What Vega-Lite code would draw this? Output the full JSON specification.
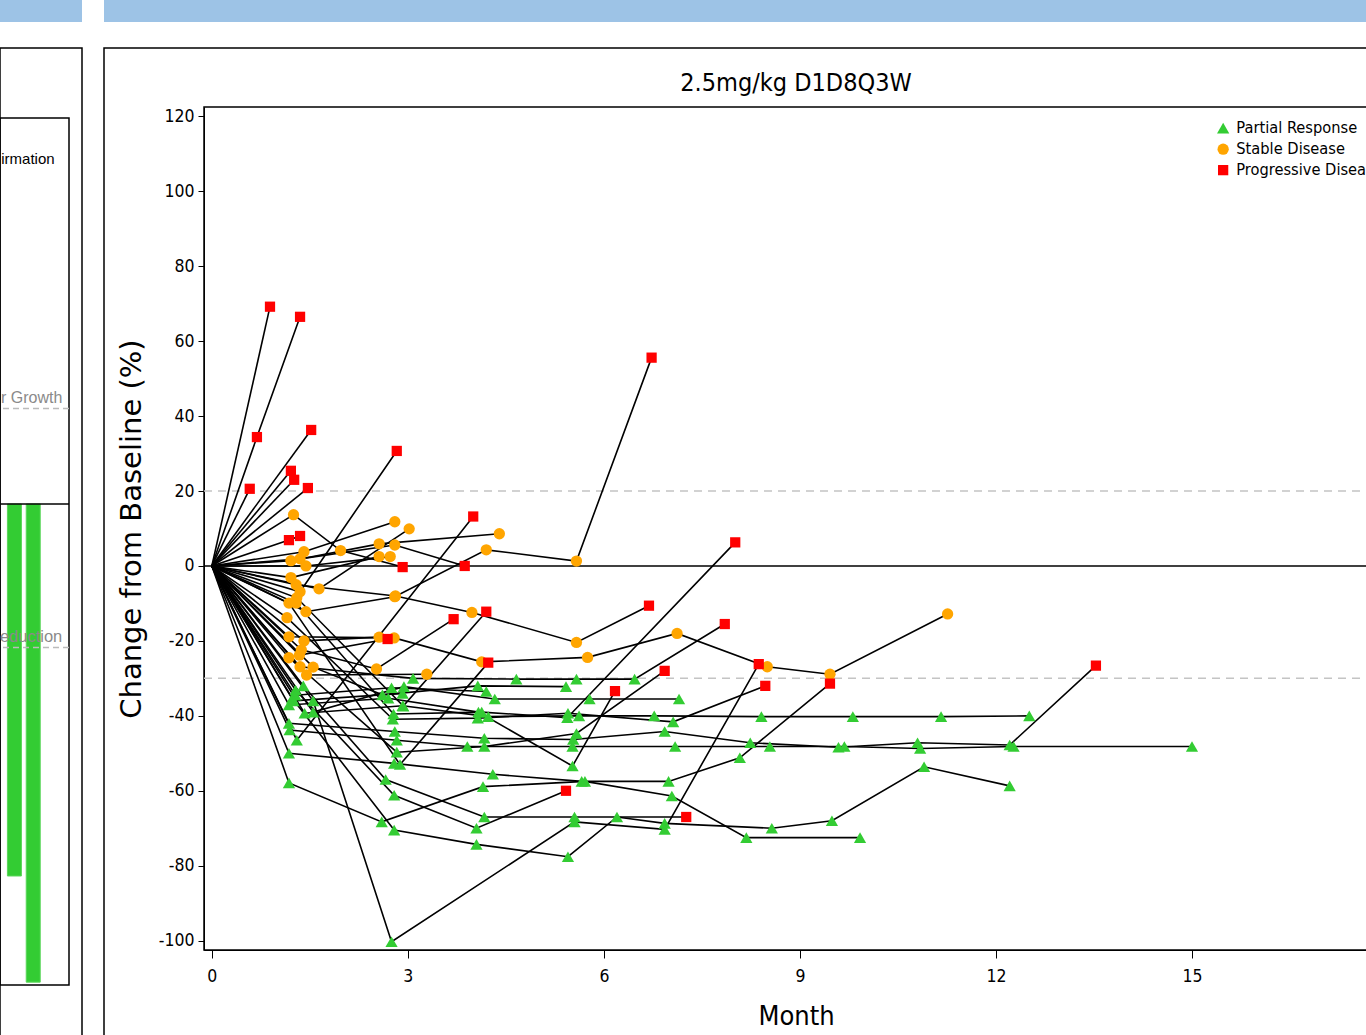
{
  "$schema": "https://vega.github.io/schema/vega-lite/v6.json",
  "padding": {"left": -2, "top": 0, "right": 0, "bottom": 0},
  "background": "white",
  "bounds": "flush",
  "spacing": 107,
  "config": {"view": {"stroke": null}},
  "datasets": {
    "spider": [
      {"id":1,"m":0,"v":0,"s":"Baseline"},{"id":1,"m":0.89,"v":69.2,"s":"Progressive Disease"},
      {"id":2,"m":0,"v":0,"s":"Baseline"},{"id":2,"m":0.69,"v":34.4,"s":"Progressive Disease"},{"id":2,"m":1.35,"v":66.5,"s":"Progressive Disease"},
      {"id":3,"m":0,"v":0,"s":"Baseline"},{"id":3,"m":0.58,"v":20.6,"s":"Progressive Disease"},
      {"id":4,"m":0,"v":0,"s":"Baseline"},{"id":4,"m":1.52,"v":36.3,"s":"Progressive Disease"},
      {"id":5,"m":0,"v":0,"s":"Baseline"},{"id":5,"m":1.21,"v":25.4,"s":"Progressive Disease"},
      {"id":6,"m":0,"v":0,"s":"Baseline"},{"id":6,"m":1.26,"v":23.0,"s":"Progressive Disease"},
      {"id":7,"m":0,"v":0,"s":"Baseline"},{"id":7,"m":1.47,"v":20.8,"s":"Progressive Disease"},
      {"id":8,"m":0,"v":0,"s":"Baseline"},{"id":8,"m":1.18,"v":6.9,"s":"Progressive Disease"},{"id":8,"m":1.35,"v":8.0,"s":"Progressive Disease"},
      {"id":9,"m":0,"v":0,"s":"Baseline"},{"id":9,"m":1.35,"v":-6.9,"s":"Stable Disease"},{"id":9,"m":2.83,"v":30.7,"s":"Progressive Disease"},
      {"id":10,"m":0,"v":0,"s":"Baseline"},{"id":10,"m":1.25,"v":13.7,"s":"Stable Disease"},{"id":10,"m":1.97,"v":4.1,"s":"Stable Disease"},{"id":10,"m":2.92,"v":-0.3,"s":"Progressive Disease"},
      {"id":11,"m":0,"v":0,"s":"Baseline"},{"id":11,"m":1.41,"v":3.8,"s":"Stable Disease"},{"id":11,"m":2.80,"v":11.8,"s":"Stable Disease"},
      {"id":12,"m":0,"v":0,"s":"Baseline"},{"id":12,"m":1.64,"v":-6.1,"s":"Stable Disease"},{"id":12,"m":3.02,"v":9.9,"s":"Stable Disease"},
      {"id":13,"m":0,"v":0,"s":"Baseline"},{"id":13,"m":1.21,"v":1.4,"s":"Stable Disease"},{"id":13,"m":2.56,"v":5.9,"s":"Stable Disease"},{"id":13,"m":4.40,"v":8.6,"s":"Stable Disease"},
      {"id":14,"m":0,"v":0,"s":"Baseline"},{"id":14,"m":1.35,"v":1.9,"s":"Stable Disease"},{"id":14,"m":2.80,"v":5.6,"s":"Stable Disease"},{"id":14,"m":3.87,"v":0,"s":"Progressive Disease"},
      {"id":15,"m":0,"v":0,"s":"Baseline"},{"id":15,"m":1.44,"v":0,"s":"Stable Disease"},{"id":15,"m":2.73,"v":2.5,"s":"Stable Disease"},
      {"id":16,"m":0,"v":0,"s":"Baseline"},{"id":16,"m":1.21,"v":-3.1,"s":"Stable Disease"},{"id":16,"m":2.56,"v":2.5,"s":"Stable Disease"},
      {"id":17,"m":0,"v":0,"s":"Baseline"},{"id":17,"m":1.29,"v":-5,"s":"Stable Disease"},{"id":17,"m":2.81,"v":-8,"s":"Stable Disease"},{"id":17,"m":3.98,"v":-12.4,"s":"Stable Disease"},{"id":17,"m":5.58,"v":-20.4,"s":"Stable Disease"},{"id":17,"m":6.69,"v":-10.6,"s":"Progressive Disease"},
      {"id":18,"m":0,"v":0,"s":"Baseline"},{"id":18,"m":1.44,"v":-12.2,"s":"Stable Disease"},{"id":18,"m":2.80,"v":-8.2,"s":"Stable Disease"},{"id":18,"m":4.2,"v":4.3,"s":"Stable Disease"},{"id":18,"m":5.58,"v":1.3,"s":"Stable Disease"},{"id":18,"m":6.73,"v":55.6,"s":"Progressive Disease"},
      {"id":19,"m":0,"v":0,"s":"Baseline"},{"id":19,"m":1.18,"v":-18.9,"s":"Stable Disease"},{"id":19,"m":2.79,"v":-19.2,"s":"Stable Disease"},{"id":19,"m":4.13,"v":-25.6,"s":"Stable Disease"},{"id":19,"m":5.75,"v":-24.4,"s":"Stable Disease"},{"id":19,"m":7.12,"v":-18,"s":"Stable Disease"},{"id":19,"m":8.5,"v":-26.9,"s":"Stable Disease"},{"id":19,"m":9.46,"v":-28.9,"s":"Stable Disease"},{"id":19,"m":11.26,"v":-12.8,"s":"Stable Disease"},
      {"id":20,"m":0,"v":0,"s":"Baseline"},{"id":20,"m":1.41,"v":-20,"s":"Stable Disease"},{"id":20,"m":2.56,"v":-19,"s":"Stable Disease"},
      {"id":21,"m":0,"v":0,"s":"Baseline"},{"id":21,"m":1.37,"v":-22.4,"s":"Stable Disease"},{"id":21,"m":2.52,"v":-27.5,"s":"Stable Disease"},{"id":21,"m":3.70,"v":-14.2,"s":"Progressive Disease"},
      {"id":22,"m":0,"v":0,"s":"Baseline"},{"id":22,"m":1.34,"v":-23.8,"s":"Stable Disease"},{"id":22,"m":2.69,"v":-19.5,"s":"Progressive Disease"},
      {"id":23,"m":0,"v":0,"s":"Baseline"},{"id":23,"m":1.45,"v":-29.1,"s":"Stable Disease"},{"id":23,"m":3.29,"v":-28.9,"s":"Stable Disease"},
      {"id":24,"m":0,"v":0,"s":"Baseline"},{"id":24,"m":1.30,"v":-8.5,"s":"Stable Disease"},{"id":24,"m":2.93,"v":-37.4,"s":"Partial Response"},{"id":24,"m":4.2,"v":-12.2,"s":"Progressive Disease"},
      {"id":25,"m":0,"v":0,"s":"Baseline"},{"id":25,"m":1.18,"v":-9.9,"s":"Stable Disease"},{"id":25,"m":2.88,"v":-53,"s":"Partial Response"},{"id":25,"m":4.23,"v":-25.8,"s":"Progressive Disease"},
      {"id":26,"m":0,"v":0,"s":"Baseline"},{"id":26,"m":1.30,"v":-46.5,"s":"Partial Response"},{"id":26,"m":4.0,"v":13.2,"s":"Progressive Disease"},
      {"id":27,"m":0,"v":0,"s":"Baseline"},{"id":27,"m":1.42,"v":-39.3,"s":"Partial Response"},{"id":27,"m":2.92,"v":-37.3,"s":"Partial Response"},{"id":27,"m":4.23,"v":-40.2,"s":"Partial Response"},{"id":27,"m":5.62,"v":-40,"s":"Partial Response"},{"id":27,"m":6.77,"v":-40,"s":"Partial Response"},{"id":27,"m":8.41,"v":-40.2,"s":"Partial Response"},{"id":27,"m":9.81,"v":-40.2,"s":"Partial Response"},{"id":27,"m":11.16,"v":-40.2,"s":"Partial Response"},{"id":27,"m":12.51,"v":-40,"s":"Partial Response"},
      {"id":28,"m":0,"v":0,"s":"Baseline"},{"id":28,"m":1.19,"v":-43.8,"s":"Partial Response"},{"id":28,"m":2.83,"v":-46.5,"s":"Partial Response"},{"id":28,"m":3.91,"v":-48.2,"s":"Partial Response"},{"id":28,"m":5.52,"v":-48.2,"s":"Partial Response"},{"id":28,"m":7.09,"v":-48.2,"s":"Partial Response"},{"id":28,"m":8.54,"v":-48.2,"s":"Partial Response"},{"id":28,"m":9.68,"v":-48.2,"s":"Partial Response"},{"id":28,"m":10.84,"v":-48.7,"s":"Partial Response"},{"id":28,"m":12.27,"v":-48.2,"s":"Partial Response"},{"id":28,"m":15.0,"v":-48.2,"s":"Partial Response"},
      {"id":29,"m":0,"v":0,"s":"Baseline"},{"id":29,"m":1.18,"v":-42,"s":"Partial Response"},{"id":29,"m":2.80,"v":-44.2,"s":"Partial Response"},{"id":29,"m":4.17,"v":-46,"s":"Partial Response"},{"id":29,"m":5.53,"v":-46.3,"s":"Partial Response"},{"id":29,"m":6.93,"v":-44.2,"s":"Partial Response"},{"id":29,"m":8.24,"v":-47.2,"s":"Partial Response"},{"id":29,"m":9.59,"v":-48.4,"s":"Partial Response"},{"id":29,"m":10.8,"v":-47.2,"s":"Partial Response"},{"id":29,"m":12.21,"v":-47.8,"s":"Partial Response"},{"id":29,"m":13.53,"v":-26.6,"s":"Progressive Disease"},
      {"id":30,"m":0,"v":0,"s":"Baseline"},{"id":30,"m":1.18,"v":-50,"s":"Partial Response"},{"id":30,"m":2.79,"v":-52.7,"s":"Partial Response"},{"id":30,"m":4.3,"v":-55.6,"s":"Partial Response"},{"id":30,"m":5.66,"v":-57.5,"s":"Partial Response"},{"id":30,"m":6.99,"v":-57.5,"s":"Partial Response"},{"id":30,"m":8.08,"v":-51.2,"s":"Partial Response"},{"id":30,"m":9.46,"v":-31.4,"s":"Progressive Disease"},
      {"id":31,"m":0,"v":0,"s":"Baseline"},{"id":31,"m":1.18,"v":-57.9,"s":"Partial Response"},{"id":31,"m":2.6,"v":-68.3,"s":"Partial Response"},{"id":31,"m":4.15,"v":-58.9,"s":"Partial Response"},{"id":31,"m":5.71,"v":-57.5,"s":"Partial Response"},{"id":31,"m":7.04,"v":-61.4,"s":"Partial Response"},{"id":31,"m":8.18,"v":-72.5,"s":"Partial Response"},{"id":31,"m":9.92,"v":-72.5,"s":"Partial Response"},
      {"id":32,"m":0,"v":0,"s":"Baseline"},{"id":32,"m":1.23,"v":-35.3,"s":"Partial Response"},{"id":32,"m":2.79,"v":-70.5,"s":"Partial Response"},{"id":32,"m":4.05,"v":-74.3,"s":"Partial Response"},{"id":32,"m":5.45,"v":-77.6,"s":"Partial Response"},{"id":32,"m":6.2,"v":-67,"s":"Partial Response"},{"id":32,"m":6.93,"v":-68.7,"s":"Partial Response"},{"id":32,"m":8.57,"v":-70,"s":"Partial Response"},{"id":32,"m":9.49,"v":-68,"s":"Partial Response"},{"id":32,"m":10.9,"v":-53.6,"s":"Partial Response"},{"id":32,"m":12.21,"v":-58.7,"s":"Partial Response"},
      {"id":33,"m":0,"v":0,"s":"Baseline"},{"id":33,"m":1.40,"v":-32,"s":"Partial Response"},{"id":33,"m":2.66,"v":-57,"s":"Partial Response"},{"id":33,"m":4.17,"v":-67,"s":"Partial Response"},{"id":33,"m":5.55,"v":-67,"s":"Partial Response"},{"id":33,"m":7.26,"v":-67,"s":"Progressive Disease"},
      {"id":34,"m":0,"v":0,"s":"Baseline"},{"id":34,"m":1.28,"v":-33.1,"s":"Partial Response"},{"id":34,"m":2.79,"v":-61.2,"s":"Partial Response"},{"id":34,"m":4.05,"v":-70,"s":"Partial Response"},{"id":34,"m":5.42,"v":-60,"s":"Progressive Disease"},
      {"id":35,"m":0,"v":0,"s":"Baseline"},{"id":35,"m":1.55,"v":-36,"s":"Partial Response"},{"id":35,"m":2.75,"v":-100.3,"s":"Partial Response"},{"id":35,"m":5.55,"v":-68.3,"s":"Partial Response"},{"id":35,"m":6.93,"v":-70.3,"s":"Partial Response"},{"id":35,"m":8.37,"v":-26.2,"s":"Progressive Disease"},
      {"id":36,"m":0,"v":0,"s":"Baseline"},{"id":36,"m":1.15,"v":-13.8,"s":"Stable Disease"},{"id":36,"m":2.77,"v":-40.9,"s":"Partial Response"},{"id":36,"m":4.07,"v":-40.6,"s":"Partial Response"},{"id":36,"m":5.45,"v":-39.3,"s":"Partial Response"},{"id":36,"m":7.06,"v":-41.6,"s":"Partial Response"},{"id":36,"m":8.47,"v":-32,"s":"Progressive Disease"},
      {"id":37,"m":0,"v":0,"s":"Baseline"},{"id":37,"m":1.35,"v":-26.9,"s":"Stable Disease"},{"id":37,"m":3.08,"v":-30,"s":"Partial Response"},{"id":37,"m":4.66,"v":-30.2,"s":"Partial Response"},{"id":37,"m":5.58,"v":-30.2,"s":"Partial Response"},{"id":37,"m":6.47,"v":-30.2,"s":"Partial Response"},{"id":37,"m":7.85,"v":-15.5,"s":"Progressive Disease"},
      {"id":38,"m":0,"v":0,"s":"Baseline"},{"id":38,"m":1.18,"v":-24.5,"s":"Stable Disease"},{"id":38,"m":2.83,"v":-49.7,"s":"Partial Response"},{"id":38,"m":4.17,"v":-48.2,"s":"Partial Response"},{"id":38,"m":5.58,"v":-44.7,"s":"Partial Response"},{"id":38,"m":6.93,"v":-28,"s":"Progressive Disease"},
      {"id":39,"m":0,"v":0,"s":"Baseline"},{"id":39,"m":1.29,"v":-9.9,"s":"Stable Disease"},{"id":39,"m":2.78,"v":-39.5,"s":"Partial Response"},{"id":39,"m":4.13,"v":-39,"s":"Partial Response"},{"id":39,"m":5.44,"v":-40.5,"s":"Partial Response"},{"id":39,"m":8.01,"v":6.3,"s":"Progressive Disease"},
      {"id":40,"m":0,"v":0,"s":"Baseline"},{"id":40,"m":1.18,"v":-37.1,"s":"Partial Response"},{"id":40,"m":2.70,"v":-35.3,"s":"Partial Response"},{"id":40,"m":4.08,"v":-39,"s":"Partial Response"},{"id":40,"m":5.52,"v":-53.4,"s":"Partial Response"},{"id":40,"m":6.17,"v":-33.4,"s":"Progressive Disease"},
      {"id":41,"m":0,"v":0,"s":"Baseline"},{"id":41,"m":1.55,"v":-39,"s":"Partial Response"},{"id":41,"m":2.94,"v":-32.2,"s":"Partial Response"},{"id":41,"m":4.33,"v":-35.5,"s":"Partial Response"},{"id":41,"m":5.78,"v":-35.5,"s":"Partial Response"},{"id":41,"m":7.15,"v":-35.5,"s":"Partial Response"},
      {"id":42,"m":0,"v":0,"s":"Baseline"},{"id":42,"m":1.55,"v":-27,"s":"Stable Disease"},{"id":42,"m":2.61,"v":-34.4,"s":"Partial Response"},{"id":42,"m":4.07,"v":-32,"s":"Partial Response"},{"id":42,"m":5.42,"v":-32.2,"s":"Partial Response"},
      {"id":43,"m":0,"v":0,"s":"Baseline"},{"id":43,"m":1.28,"v":-34.5,"s":"Partial Response"},{"id":43,"m":2.75,"v":-32.5,"s":"Partial Response"},{"id":43,"m":4.2,"v":-33.5,"s":"Partial Response"},
      {"id":44,"m":0,"v":0,"s":"Baseline"},{"id":44,"m":1.25,"v":-36,"s":"Partial Response"},{"id":44,"m":2.92,"v":-34,"s":"Partial Response"}
    ],
    "bars": [
      {"idx": 1, "pct": -77.8},
      {"idx": 2, "pct": -100}
    ]
  },
  "vconcat": [
    {
      "bounds": "flush",
      "spacing": 104,
      "hconcat": [
        {
          "bounds": "flush",
          "spacing": 26,
          "vconcat": [
            {"data": {"values": [{}]}, "mark": {"type": "text", "text": ""}, "width": 82, "height": 22, "view": {"fill": "#9DC3E6", "stroke": null}},
            {"data": {"values": [{}]}, "mark": {"type": "text", "text": ""}, "width": 82, "height": 1000, "view": {"fill": null, "stroke": "#000", "strokeWidth": 1.5}}
          ]
        },
        {
          "bounds": "flush",
          "spacing": 26,
          "vconcat": [
            {"data": {"values": [{}]}, "mark": {"type": "text", "text": ""}, "width": 1262, "height": 22, "view": {"fill": "#9DC3E6", "stroke": null}},
            {"data": {"values": [{}]}, "mark": {"type": "text", "text": ""}, "width": 1290, "height": 1000, "view": {"fill": null, "stroke": "#000", "strokeWidth": 1.5}}
          ]
        }
      ]
    },
    {
      "bounds": "flush",
      "spacing": 204,
      "hconcat": [
        {
          "bounds": "flush",
          "spacing": 10,
          "vconcat": [
            {"data": {"values": [{}]}, "mark": {"type": "text", "text": ""}, "width": 69, "height": 1, "view": {"stroke": null}},
            {
              "width": 69,
              "height": 867,
              "view": {"stroke": "#000", "strokeWidth": 1.5},
              "data": {"name": "bars"},
              "layer": [
                {
                  "mark": {"type": "bar", "size": 14, "color": "#33CC33", "stroke": "#5ad65a", "strokeWidth": 1},
                  "encoding": {
                    "x": {"field": "idx", "type": "quantitative", "scale": {"domain": [0.5, 3.636], "nice": false, "zero": false}, "axis": null},
                    "y": {"field": "pct", "type": "quantitative", "scale": {"domain": [-100.6, 80.75], "nice": false}, "axis": null}
                  }
                },
                {"data": {"values": [{}]}, "mark": {"type": "rule", "color": "#000", "strokeWidth": 1.5}, "encoding": {"y": {"datum": 0}}},
                {"data": {"values": [{}]}, "mark": {"type": "rule", "color": "#bbbbbb", "strokeWidth": 1.5, "strokeDash": [6, 4]}, "encoding": {"y": {"datum": 20}}},
                {"data": {"values": [{}]}, "mark": {"type": "rule", "color": "#bbbbbb", "strokeWidth": 1.5, "strokeDash": [6, 4]}, "encoding": {"y": {"datum": -30}}},
                {"data": {"values": [{}]}, "mark": {"type": "text", "text": "irmation", "align": "right", "baseline": "alphabetic", "fontSize": 15, "font": "Liberation Sans", "color": "#000"}, "encoding": {"x": {"datum": 3.136}, "y": {"datum": 71.1}}},
                {"data": {"values": [{}]}, "mark": {"type": "text", "text": "r Growth", "align": "right", "baseline": "alphabetic", "fontSize": 16, "font": "Liberation Sans", "color": "#8a8a8a"}, "encoding": {"x": {"datum": 3.545}, "y": {"datum": 21.1}}},
                {"data": {"values": [{}]}, "mark": {"type": "text", "text": "eduction", "align": "right", "baseline": "alphabetic", "fontSize": 16.5, "font": "Liberation Sans", "color": "#8a8a8a"}, "encoding": {"x": {"datum": 3.545}, "y": {"datum": -28.9}}}
              ]
            }
          ]
        },
        {
          "width": 1184,
          "height": 843,
          "view": {"stroke": "#000", "strokeWidth": 1.5},
          "title": {"text": "2.5mg/kg D1D8Q3W", "fontSize": 25, "font": "DejaVu Sans Condensed, sans-serif", "fontWeight": "normal", "color": "#000", "offset": 11, "anchor": "middle"},
          "data": {"name": "spider"},
          "layer": [
            {"data": {"values": [{}]}, "mark": {"type": "rule", "color": "#c4c4c4", "strokeWidth": 1.5, "strokeDash": [8, 6]}, "encoding": {"y": {"datum": 20}}},
            {"data": {"values": [{}]}, "mark": {"type": "rule", "color": "#c4c4c4", "strokeWidth": 1.5, "strokeDash": [8, 6]}, "encoding": {"y": {"datum": -30}}},
            {"data": {"values": [{}]}, "mark": {"type": "rule", "color": "#000", "strokeWidth": 1.5}, "encoding": {"y": {"datum": 0}}},
            {
              "mark": {"type": "line", "color": "#000", "strokeWidth": 1.6},
              "encoding": {
                "x": {"field": "m", "type": "quantitative", "scale": {"domain": [-0.12, 18], "nice": false, "zero": false},
                  "axis": {"title": "Month", "values": [0, 3, 6, 9, 12, 15], "format": "d", "grid": false, "tickSize": 8, "tickColor": "#000", "domainColor": "#000", "labelColor": "#000", "titleColor": "#000", "labelFontSize": 17.5, "labelFont": "DejaVu Sans Condensed, sans-serif", "titleFont": "DejaVu Sans Condensed, sans-serif", "titleFontSize": 27, "titleFontWeight": "normal", "labelPadding": 9, "titlePadding": 19, "labelFlush": false}},
                "y": {"field": "v", "type": "quantitative", "scale": {"domain": [-102.5, 122.5], "nice": false},
                  "axis": {"title": "Change from Baseline (%)", "values": [-100, -80, -60, -40, -20, 0, 20, 40, 60, 80, 100, 120], "labelExpr": "'' + datum.value", "grid": false, "tickSize": 6, "tickColor": "#000", "domainColor": "#000", "labelColor": "#000", "titleColor": "#000", "labelFontSize": 17.5, "labelFont": "DejaVu Sans Condensed, sans-serif", "titleFont": "DejaVu Sans, Verdana, sans-serif", "titleFontSize": 29, "titleFontWeight": "normal", "labelPadding": 4, "titlePadding": 12}},
                "detail": {"field": "id", "type": "nominal"},
                "order": {"field": "m", "type": "quantitative"}
              }
            },
            {
              "transform": [{"filter": "datum.s != 'Baseline'"}],
              "mark": {"type": "point", "filled": true, "opacity": 1, "strokeWidth": 0},
              "encoding": {
                "x": {"field": "m", "type": "quantitative"},
                "y": {"field": "v", "type": "quantitative"},
                "size": {"field": "s", "type": "nominal", "scale": {"domain": ["Partial Response", "Stable Disease", "Progressive Disease"], "range": [150, 105, 100]}, "legend": null},
                "shape": {"field": "s", "type": "nominal", "scale": {"domain": ["Partial Response", "Stable Disease", "Progressive Disease"], "range": ["triangle-up", "circle", "square"]}, "legend": {"title": null, "orient": "none", "legendX": 1215, "legendY": 120, "labelFontSize": 16.3, "labelFont": "DejaVu Sans Condensed, sans-serif", "labelColor": "#000", "labelLimit": 400, "symbolSize": 70, "labelOffset": 5, "rowPadding": 4, "padding": 0}},
                "color": {"field": "s", "type": "nominal", "scale": {"domain": ["Partial Response", "Stable Disease", "Progressive Disease"], "range": ["#33CC33", "#FFA500", "#FF0000"]}, "legend": {"title": null, "orient": "none", "legendX": 1215, "legendY": 120, "labelFontSize": 16.3, "labelFont": "DejaVu Sans Condensed, sans-serif", "labelColor": "#000", "labelLimit": 400, "symbolSize": 70, "labelOffset": 5, "rowPadding": 4, "padding": 0}}
              }
            }
          ]
        }
      ]
    }
  ]
}
